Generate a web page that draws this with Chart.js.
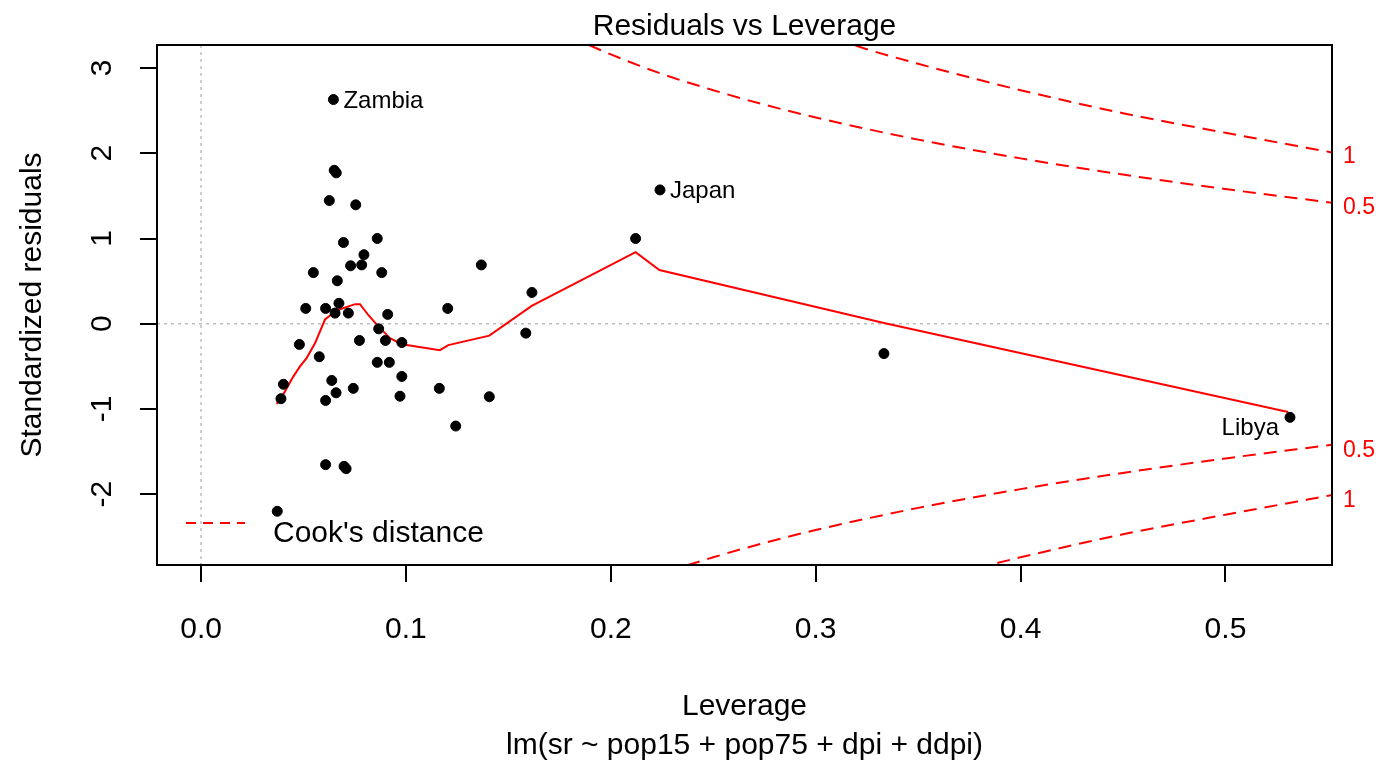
<!DOCTYPE html>
<html lang="en">
<head>
<meta charset="UTF-8">
<title>Residuals vs Leverage</title>
<script src="https://cdn.jsdelivr.net/npm/chart.js"></script>
<style>
  html, body { margin: 0; padding: 0; background: #fff; }
  #wrap { width: 1380px; height: 760px; }
</style>
</head>
<body>
<div id="wrap"><canvas id="plot" width="1380" height="760"></canvas></div>
<script>
// leverage (hat values) and standardized residuals, one entry per country
const leverage = [0.0646, 0.0650, 0.0660, 0.0626, 0.0755, 0.0695, 0.0860, 0.0795, 0.0730, 0.0784,
                  0.0548, 0.0882, 0.0665, 0.0511, 0.0608, 0.0673, 0.0654, 0.0719, 0.0911, 0.1204,
                  0.0867, 0.0773, 0.0900, 0.0980, 0.0480, 0.0577, 0.0860, 0.0919, 0.0980, 0.0402,
                  0.0638, 0.1163, 0.0743, 0.0659, 0.0390, 0.0608, 0.0971, 0.1243, 0.2240, 0.2121,
                  0.1368, 0.1615, 0.1585, 0.1407, 0.0608, 0.0698, 0.0708, 0.0372, 0.3333, 0.5315];
const stdResid = [2.63, 1.80, 1.77, 1.445, 1.395, 0.953, 1.00, 0.81, 0.68, 0.69,
                  0.60, 0.60, 0.504, 0.18, 0.18, 0.24, 0.125, 0.125, 0.11, 0.18,
                  -0.06, -0.196, -0.196, -0.22, -0.243, -0.387, -0.453, -0.453, -0.618, -0.71,
                  -0.665, -0.758, -0.758, -0.81, -0.879, -0.90, -0.85, -1.20, 1.57, 1.00,
                  0.69, 0.367, -0.11, -0.856, -1.653, -1.673, -1.70, -2.20, -0.35, -1.098];

// labelled observations (index into the arrays above)
const labelNames = ['Zambia', 'Japan', 'Libya'];
const labelIndex = [0, 38, 49];
const labelSide = ['right', 'right', 'left'];

// smoother through the residuals
const smoothLev = [0.0369, 0.0399, 0.0450, 0.0483, 0.0516, 0.0556, 0.0605, 0.0643, 0.0678, 0.0727,
                   0.0752, 0.0776, 0.0817, 0.0858, 0.0898, 0.0922, 0.0980, 0.1166, 0.1207, 0.1407,
                   0.1614, 0.2121, 0.2237, 0.3333, 0.5306];
const smoothRes = [-0.94, -0.84, -0.62, -0.50, -0.40, -0.23, 0.05, 0.12, 0.17, 0.21,
                   0.23, 0.23, 0.10, -0.01, -0.11, -0.17, -0.24, -0.31, -0.25, -0.14,
                   0.21, 0.84, 0.63, 0.01, -1.035];

// Cook's distance contours (upper branch; lower one is the mirror)
const cookHalfLev = [0.18, 0.20, 0.225, 0.25, 0.275, 0.30, 0.35, 0.40, 0.45, 0.50, 0.552];
const cookHalf    = [3.37, 3.16, 2.93, 2.74, 2.57, 2.42, 2.16, 1.94, 1.75, 1.58, 1.42];
const cookOneLev  = [0.30, 0.325, 0.35, 0.375, 0.40, 0.45, 0.50, 0.552];
const cookOne     = [3.42, 3.22, 3.05, 2.89, 2.74, 2.47, 2.24, 2.01];
const cookLevels  = ['0.5', '1'];

const xTickVals = [0, 0.1, 0.2, 0.3, 0.4, 0.5];
const yTickVals = [-2, -1, 0, 1, 2, 3];

const FONT = '"Liberation Sans", Arial, Helvetica, sans-serif';
const RED = '#ff0000';

function pts(xs, ys, sign) {
  return xs.map((x, i) => ({ x: x, y: (sign || 1) * ys[i] }));
}

function cookSet(xs, ys, sign) {
  return {
    data: pts(xs, ys, sign),
    showLine: true,
    borderColor: RED,
    borderWidth: 2,
    borderDash: [13, 8],
    pointRadius: 0,
    cubicInterpolationMode: 'monotone',
    order: 3
  };
}

// text, frame and reference lines in the style of base graphics
const decor = {
  id: 'decor',
  beforeDatasetsDraw(chart) {
    const { ctx, chartArea: a, scales: { x, y } } = chart;
    ctx.save();
    ctx.strokeStyle = '#bebebe';
    ctx.lineWidth = 1.5;
    ctx.setLineDash([3, 4]);
    const x0 = x.getPixelForValue(0), y0 = y.getPixelForValue(0);
    ctx.beginPath();
    ctx.moveTo(x0, a.top); ctx.lineTo(x0, a.bottom);
    ctx.moveTo(a.left, y0); ctx.lineTo(a.right, y0);
    ctx.stroke();
    ctx.restore();
  },
  afterDraw(chart) {
    const { ctx, chartArea: a, scales: { x, y } } = chart;
    const cx = (a.left + a.right) / 2;
    ctx.save();

    // frame
    ctx.strokeStyle = '#000';
    ctx.lineWidth = 2;
    ctx.strokeRect(a.left, a.top, a.right - a.left, a.bottom - a.top);

    ctx.fillStyle = '#000';
    ctx.font = '30px ' + FONT;
    ctx.textAlign = 'center';
    ctx.textBaseline = 'alphabetic';

    // title and axis titles
    ctx.fillText('Residuals vs Leverage', cx, 35);
    ctx.fillText('Leverage', cx, 715);
    ctx.fillText('lm(sr ~ pop15 + pop75 + dpi + ddpi)', cx, 754);

    ctx.save();
    ctx.translate(41, (a.top + a.bottom) / 2);
    ctx.rotate(-Math.PI / 2);
    ctx.fillText('Standardized residuals', 0, 0);
    ctx.restore();

    // rotated y tick labels
    y.ticks.forEach(t => {
      ctx.save();
      ctx.translate(111, y.getPixelForValue(t.value));
      ctx.rotate(-Math.PI / 2);
      ctx.fillText(String(t.value), 0, 0);
      ctx.restore();
    });

    // point labels
    ctx.font = '24px ' + FONT;
    labelIndex.forEach((k, i) => {
      const px = x.getPixelForValue(leverage[k]);
      const py = y.getPixelForValue(stdResid[k]);
      if (labelSide[i] === 'left') {
        ctx.textAlign = 'right';
        ctx.fillText(labelNames[i], px - 11, py + 17.5);
      } else {
        ctx.textAlign = 'left';
        ctx.fillText(labelNames[i], px + 10, py + 8.5);
      }
    });

    // contour levels in the right margin
    ctx.fillStyle = RED;
    ctx.font = '23px ' + FONT;
    ctx.textAlign = 'left';
    const ends = [cookHalf[cookHalf.length - 1], cookOne[cookOne.length - 1]];
    ends.forEach((v, i) => {
      ctx.fillText(cookLevels[i], a.right + 11, y.getPixelForValue(v) + 11);
      ctx.fillText(cookLevels[i], a.right + 11, y.getPixelForValue(-v) + 12);
    });

    // legend
    ctx.strokeStyle = RED;
    ctx.lineWidth = 2;
    ctx.setLineDash([10, 7]);
    ctx.beginPath();
    ctx.moveTo(186, 523);
    ctx.lineTo(245, 523);
    ctx.stroke();
    ctx.setLineDash([]);
    ctx.fillStyle = '#000';
    ctx.font = '30px ' + FONT;
    ctx.fillText("Cook's distance", 273, 541.5);

    ctx.restore();
  }
};

const ctx = document.getElementById('plot').getContext('2d');
const chart = new Chart(ctx, {
  type: 'scatter',
  data: {
    datasets: [
      {
        data: pts(leverage, stdResid),
        backgroundColor: '#000',
        borderColor: '#000',
        borderWidth: 1,
        pointRadius: 5,
        order: 1
      },
      {
        data: pts(smoothLev, smoothRes),
        showLine: true,
        borderColor: RED,
        borderWidth: 2,
        pointRadius: 0,
        order: 2
      },
      cookSet(cookHalfLev, cookHalf, 1),
      cookSet(cookHalfLev, cookHalf, -1),
      cookSet(cookOneLev, cookOne, 1),
      cookSet(cookOneLev, cookOne, -1)
    ]
  },
  options: {
    responsive: false,
    devicePixelRatio: 1,
    animation: false,
    layout: { padding: { top: 45, right: 48, left: 0, bottom: 0 } },
    plugins: {
      legend: { display: false },
      tooltip: { enabled: false }
    },
    scales: {
      x: {
        type: 'linear',
        min: -0.0215,
        max: 0.552,
        afterFit: s => { s.height = 195; },
        afterBuildTicks: s => { s.ticks = xTickVals.map(v => ({ value: v })); },
        border: { display: false },
        grid: { drawOnChartArea: false, drawTicks: true, tickLength: 17, color: '#000', lineWidth: 2 },
        ticks: {
          color: '#000',
          font: { family: FONT, size: 30 },
          padding: 30,
          maxRotation: 0,
          autoSkip: false,
          callback: v => v.toFixed(1)
        }
      },
      y: {
        type: 'linear',
        min: -2.83,
        max: 3.27,
        afterFit: s => { s.width = 157; },
        afterBuildTicks: s => { s.ticks = yTickVals.map(v => ({ value: v })); },
        border: { display: false },
        grid: { drawOnChartArea: false, drawTicks: true, tickLength: 17, color: '#000', lineWidth: 2 },
        ticks: { display: false }
      }
    }
  },
  plugins: [decor]
});
</script>
</body>
</html>
